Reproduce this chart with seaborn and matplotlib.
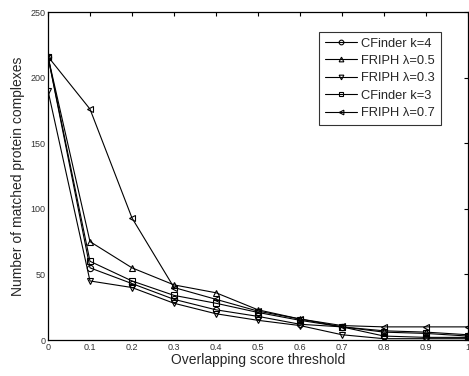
import matplotlib
matplotlib.use("Agg")
import matplotlib.pyplot as plt
import seaborn as sns
import pandas as pd
import numpy as np

thresholds = [0.0, 0.1, 0.2, 0.3, 0.4, 0.5, 0.6, 0.7, 0.8, 0.9, 1.0]
cfinder_k4 = [216, 55, 43, 31, 23, 18, 12, 10, 3, 2, 2]
friph_05 = [216, 75, 55, 42, 36, 23, 16, 10, 7, 6, 4]
friph_03 = [190, 45, 40, 28, 20, 15, 11, 4, 1, 1, 1]
cfinder_k3 = [216, 60, 45, 34, 28, 21, 15, 10, 6, 5, 3]
friph_07 = [216, 176, 93, 40, 31, 22, 16, 11, 10, 10, 10]

series_names = ["CFinder k=4", "FRIPH \u03bb=0.5", "FRIPH \u03bb=0.3", "CFinder k=3", "FRIPH \u03bb=0.7"]
series_values = [cfinder_k4, friph_05, friph_03, cfinder_k3, friph_07]
marker_list = ["o", "^", "v", "s", "<"]

rows = []
for name, vals in zip(series_names, series_values):
    for t, v in zip(thresholds, vals):
        rows.append({"threshold": t, "count": v, "series": name})
df = pd.DataFrame(rows)

sns.set_style("white")
plt.rcParams['font.family'] = ['Liberation Sans', 'DejaVu Sans']

fig = plt.figure(figsize=(4.69, 3.76), dpi=100)
ax = fig.add_axes([48/469, 36/376, 420/469, 328/376])

for name, mk in zip(series_names, marker_list):
    sub = df[df["series"] == name]
    sns.lineplot(data=sub, x="threshold", y="count", ax=ax, color="black",
                 marker=mk, markersize=4.5, markerfacecolor="none",
                 markeredgecolor="black", markeredgewidth=0.8,
                 linewidth=0.8, label=name, legend=False)

ax.set_xlim(0, 1)
ax.set_ylim(0, 250)
ax.set_xticks(thresholds)
ax.set_xticklabels(["0", "0.1", "0.2", "0.3", "0.4", "0.5", "0.6", "0.7", "0.8", "0.9", "1"])
ax.set_yticks([0, 50, 100, 150, 200, 250])
ax.tick_params(axis="both", direction="in", length=3, width=0.8, labelsize=6.5,
               top=True, right=True, colors="black", labelcolor="#333333", pad=2)
for s in ax.spines.values():
    s.set_color("black")
    s.set_linewidth(0.9)
ax.set_xlabel("Overlapping score threshold", fontsize=10, labelpad=1)
ax.set_ylabel("Number of matched protein complexes", fontsize=10, labelpad=4)

handles = ax.get_lines()
leg = ax.legend(handles=handles[:5], labels=series_names, loc="upper right",
                bbox_to_anchor=(0.935, 0.94), fontsize=9.3, frameon=True,
                fancybox=False, edgecolor="black", handlelength=2.5,
                handletextpad=0.3, borderpad=0.45, labelspacing=0.42,
                borderaxespad=0, markerscale=0.75)
leg.get_frame().set_linewidth(0.8)

fig.savefig("out.png", dpi=100)
